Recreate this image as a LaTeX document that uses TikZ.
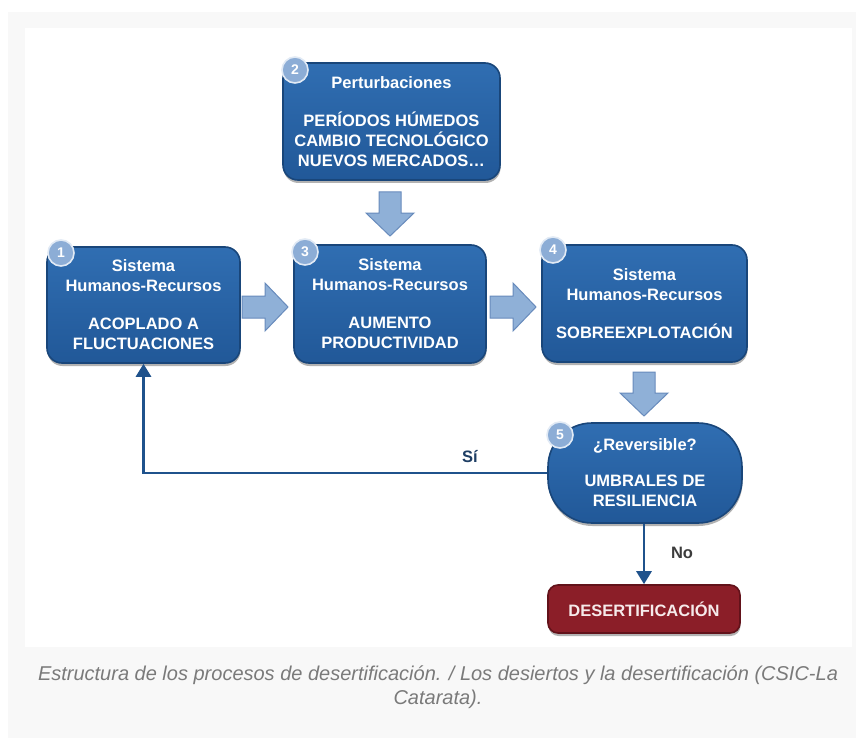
\documentclass[tikz,border=0pt]{standalone}
\usepackage{fontspec}
\setmainfont{Liberation Sans}
\usetikzlibrary{shadows,arrows.meta}
\definecolor{boxblue}{RGB}{41,99,166}
\definecolor{boxtop}{RGB}{48,110,178}
\definecolor{boxbot}{RGB}{33,88,152}
\definecolor{boxedge}{RGB}{25,70,122}
\definecolor{numfill}{RGB}{140,173,214}
\definecolor{numedge}{RGB}{225,234,245}
\definecolor{arrfill}{RGB}{143,176,215}
\definecolor{arredge}{RGB}{104,139,188}
\definecolor{connblue}{RGB}{31,82,140}
\definecolor{desfill}{RGB}{139,30,40}
\definecolor{desedge}{RGB}{98,18,26}
\definecolor{destext}{RGB}{246,234,234}
\definecolor{panelgray}{RGB}{248,248,248}
\definecolor{captgray}{RGB}{122,122,122}
\definecolor{sitext}{RGB}{30,62,100}
\definecolor{notext}{RGB}{60,60,60}
\tikzset{
  boxfont/.style={font=\fontsize{16.5}{20}\selectfont\bfseries},
  bluebox/.style={boxfont, rectangle, rounded corners=15pt, top color=boxtop, bottom color=boxbot,
    draw=boxedge, line width=1.6pt, text=white, align=center, inner sep=0pt,
    drop shadow={shadow xshift=0.5pt, shadow yshift=-3pt, opacity=0.3, fill=black}},
  numcirc/.style={circle, minimum size=26pt, inner sep=0pt, fill=numfill, draw=numedge,
    line width=1.6pt, text=white, font=\fontsize{14}{14}\selectfont\bfseries},
  barrowstyle/.style={fill=arrfill, draw=arredge, line width=1pt, line join=miter},
  conn/.style={draw=connblue, line width=2.8pt, -{Triangle[width=15pt,length=13pt]}},
  rightarrow/.pic={\path[barrowstyle] (0,-11) -- (23,-11) -- (23,-24) -- (46,0) -- (23,24) -- (23,11) -- (0,11) -- cycle;},
  downarrow/.pic={\path[barrowstyle] (-11,0) -- (-11,21) -- (-24,21) -- (0,44) -- (24,21) -- (11,21) -- (11,0) -- cycle;}
}
\begin{document}
\begin{tikzpicture}[x=1pt,y=-1pt]
\useasboundingbox (0,0) rectangle (856,746);
\fill[white] (0,0) rectangle (856,746);
\fill[panelgray] (8,12) rectangle (856,738);
\fill[white] (25,28) rectangle (852,647);

% block arrows
\pic at (242,307) {rightarrow};
\pic at (490,307) {rightarrow};
\pic at (390,192) {downarrow};
\pic at (644,372) {downarrow};

% boxes
\node[bluebox, minimum width=193pt, minimum height=116pt] (b1) at (143.5,305)
  {Sistema\\Humanos-Recursos\\[18pt]ACOPLADO A\\FLUCTUACIONES};
\node[bluebox, minimum width=217pt, minimum height=117pt] (b2) at (391.5,121.5)
  {Perturbaciones\\[18pt]PERÍODOS HÚMEDOS\\CAMBIO TECNOLÓGICO\\NUEVOS MERCADOS…};
\node[bluebox, minimum width=192pt, minimum height=118pt] (b3) at (390,304)
  {Sistema\\Humanos-Recursos\\[18pt]AUMENTO\\PRODUCTIVIDAD};
\node[bluebox, minimum width=205pt, minimum height=117pt] (b4) at (644.5,303.5)
  {Sistema\\Humanos-Recursos\\[18pt]SOBREEXPLOTACIÓN};
\node[bluebox, rounded corners=44pt, minimum width=194pt, minimum height=100pt] (b5) at (645,473)
  {¿Reversible?\\[16pt]UMBRALES DE\\RESILIENCIA};
\node[bluebox, rounded corners=10pt, top color=desfill, bottom color=desfill, draw=desedge, text=destext,
  minimum width=192pt, minimum height=48pt] (des) at (644,609) {DESERTIFICACIÓN};

% number circles
\node[numcirc] (n1) at (61,253) {1};
\node[numcirc] (n2) at (295,70) {2};
\node[numcirc] (n3) at (305,252) {3};
\node[numcirc] (n4) at (553,250) {4};
\node[numcirc] (n5) at (560,435) {5};

% connectors
\draw[conn] (b5.west) -- (b5.west -| b1.south) -- (b1.south);
\draw[conn] (b5.south -| des.north) -- (des.north);
\node[boxfont, text=sitext] (si) at (470,457) {Sí};
\node[boxfont, text=notext] (no) at (682,553) {No};

% caption
\node[font=\fontsize{20}{23.5}\selectfont\itshape, text=captgray, align=center] (cap) at (438,687)
  {Estructura de los procesos de desertificación. / Los desiertos y la desertificación (CSIC-La\\Catarata).};
\end{tikzpicture}
\end{document}
